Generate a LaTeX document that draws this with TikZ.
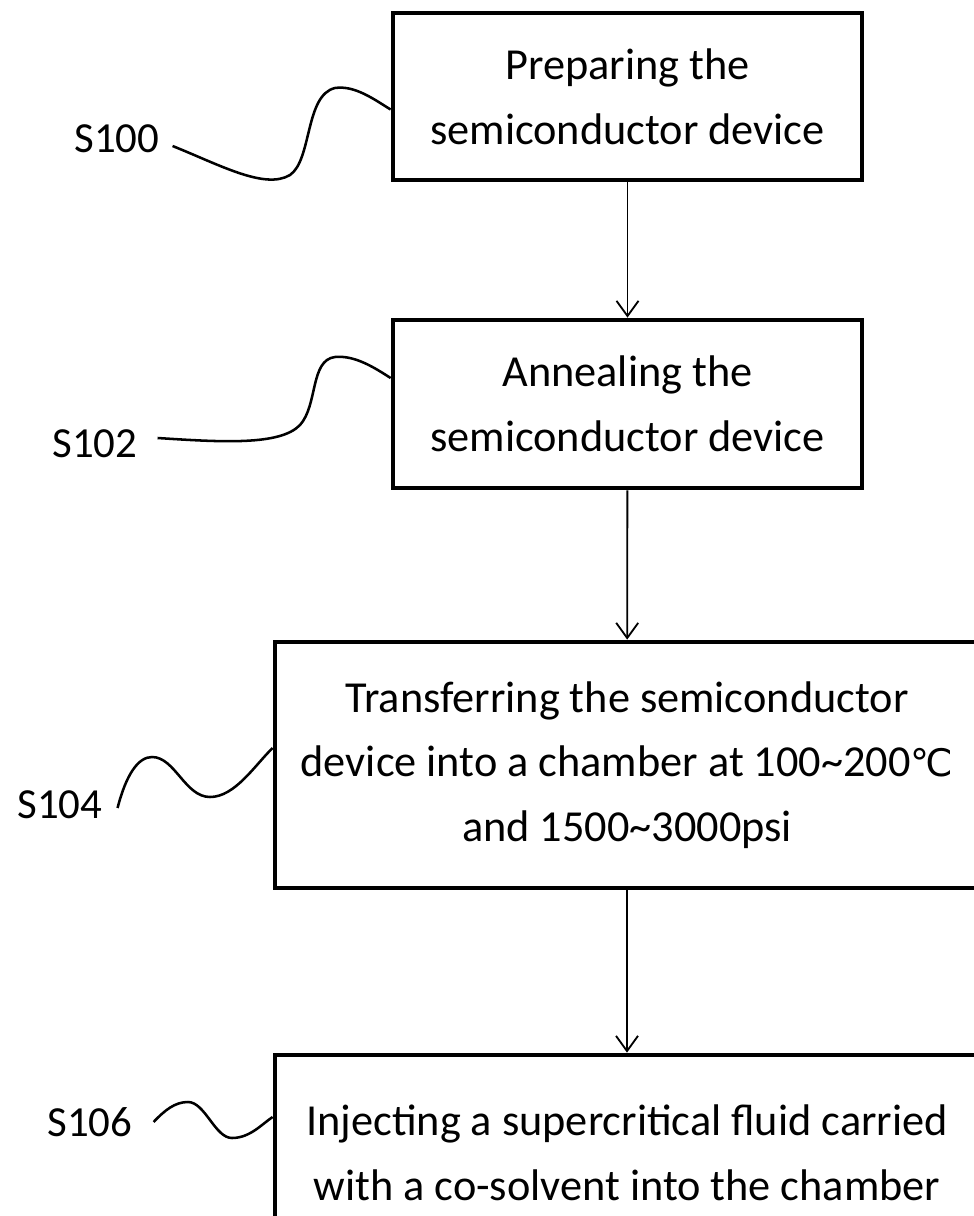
\documentclass[tikz,border=0pt]{standalone}
\usepackage{fontspec}
\setmainfont{Carlito}
\newfontfamily\symfont{DejaVu Sans}
\usetikzlibrary{arrows.meta,calc}
\tikzset{
  stepbox/.style={draw,line width=3.4pt,align=center,inner sep=0pt,
    font=\fontsize{31.5}{46}\selectfont},
  lbl/.style={font=\fontsize{30.5}{36}\selectfont,inner sep=2pt},
  flow/.style={line width=1.3pt,-{Straight Barb[length=0.38cm,width=0.55cm,line width=1.3pt]}},
  squig/.style={line width=1.8pt}
}
\begin{document}
\begin{tikzpicture}[x=0.025cm,y=-0.025cm]
        \useasboundingbox (0,0) rectangle (973,1216);
        \node[stepbox,minimum width=469*0.025cm,minimum height=167*0.025cm] at (627.5,96.5) (b0) {Preparing the\\semiconductor device};
        \node[stepbox,minimum width=469*0.025cm,minimum height=168*0.025cm] at (627.5,404) (b1) {Annealing the\\semiconductor device};
        \node[stepbox,minimum width=704*0.025cm,minimum height=246*0.025cm] at (627,765) (b2) {Transferring the semiconductor\\device into a chamber at 100\textasciitilde200{\symfont\fontsize{27}{27}\selectfont ℃}\\and 1500\textasciitilde3000psi};
        \node[stepbox,minimum width=704*0.025cm,minimum height=196*0.025cm] at (627,1153) (b3) {Injecting a supercritical fluid carried\\with a co-solvent into the chamber};
        \node[lbl] at (117,139) (l0) {S100};
        \node[lbl] at (95,444) (l1) {S102};
        \node[lbl] at (60,805) (l2) {S104};
        \node[lbl] at (90,1122) (l3) {S106};
        \draw[flow] (b0) -- (b1);
        \draw[flow] (b1) -- (b2);
        \draw[flow] (b2) -- (b3);
        \draw[squig] ($(l0.east)+(10,7)$) .. controls (220,165) and (265,190) .. (290,175)
          .. controls (312,160) and (305,95) .. (335,88)
          .. controls (355,85) and (375,100) .. ($(b0.west)+(0,13)$);
        \draw[squig] ($(l1.east)+(17,-6)$) .. controls (220,442) and (280,446) .. (300,425)
          .. controls (318,405) and (310,360) .. (335,357)
          .. controls (355,355) and (375,368) .. ($(b1.west)+(0,-26)$);
        \draw[squig] ($(l2.east)+(12,3)$) .. controls (126,775) and (138,757) .. (152,757)
          .. controls (175,757) and (185,797) .. (210,797)
          .. controls (235,797) and (255,765) .. ($(b2.west)+(0,-17)$);
        \draw[squig] ($(l3.east)+(18,0)$) .. controls (165,1110) and (175,1102) .. (188,1102)
          .. controls (205,1102) and (215,1138) .. (232,1138)
          .. controls (250,1138) and (262,1124) .. ($(b3.west)+(0,-36)$);
      \end{tikzpicture}
\end{document}
